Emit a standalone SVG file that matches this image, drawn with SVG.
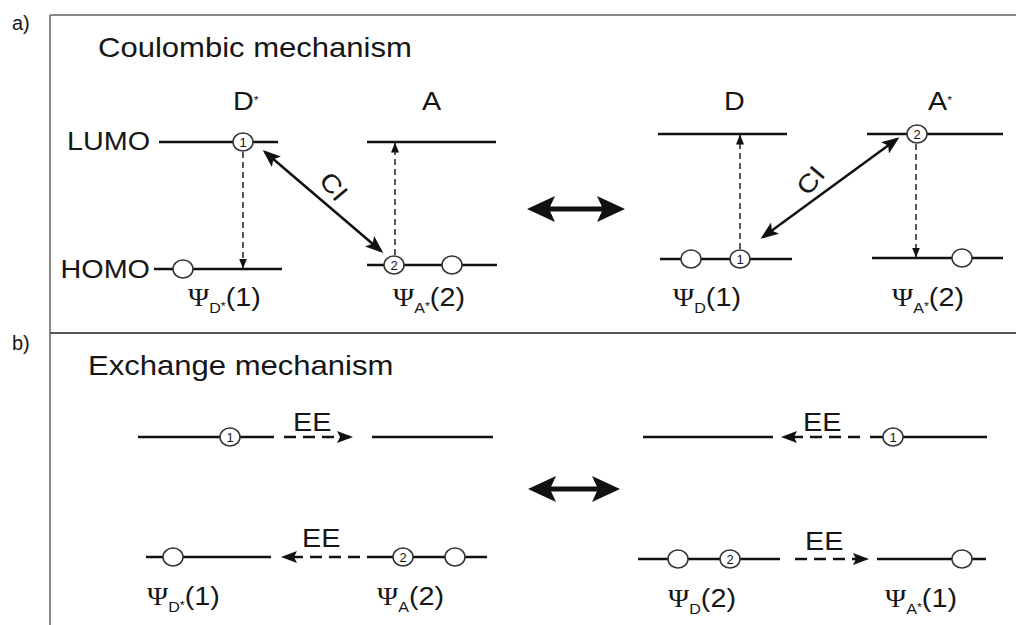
<svg xmlns="http://www.w3.org/2000/svg" width="1016" height="625" viewBox="0 0 1016 625">
<style>
text{font-family:"Liberation Sans",Arial,sans-serif;fill:#161616}
.ttl{font-size:27px}
.lbl{font-size:25px}
.psi{font-family:"Liberation Serif","Times New Roman",serif}
.sub{font-size:14px}
.star{font-size:11px}
.num{font-size:13px;text-anchor:middle}
.lvl{stroke:#111;stroke-width:2.5;fill:none}
.frame{stroke:#888;stroke-width:2;fill:none}
.dv{stroke:#222;stroke-width:1.5;stroke-dasharray:6 4;fill:none}
.ci{stroke:#111;stroke-width:2.5;fill:none}
.ee{stroke:#111;stroke-width:2.5;stroke-dasharray:12 7;fill:none}
.big{stroke:#111;stroke-width:5;fill:none}
.orb{fill:#fff;stroke:#333;stroke-width:1.5}
</style>
<defs>
<marker id="msm" markerUnits="userSpaceOnUse" viewBox="0 0 10 8" markerWidth="10" markerHeight="8" refX="9.5" refY="4" orient="auto-start-reverse"><path d="M0,0 L10,4 L0,8 z" fill="#111"/></marker>
<marker id="mci" markerUnits="userSpaceOnUse" viewBox="0 0 18 14" markerWidth="18" markerHeight="14" refX="15" refY="7" orient="auto-start-reverse"><path d="M0,0 L18,7 L0,14 L4,7 z" fill="#111"/></marker>
<marker id="mee" markerUnits="userSpaceOnUse" viewBox="0 0 16 12" markerWidth="16" markerHeight="12" refX="13" refY="6" orient="auto-start-reverse"><path d="M0,0 L16,6 L0,12 L3,6 z" fill="#111"/></marker>
<marker id="mbig" markerUnits="userSpaceOnUse" viewBox="0 0 28 26" markerWidth="28" markerHeight="26" refX="20" refY="13" orient="auto-start-reverse"><path d="M0,0 L28,13 L0,26 L6,13 z" fill="#111"/></marker>
</defs>

<g id="frame">
<path class="frame" d="M50,15 H1016 M50,15 V625"/>
<path d="M50,333 H1016" stroke="#555" stroke-width="2"/>
<text x="12" y="30" font-size="20">a)</text>
<text x="12" y="350" font-size="20">b)</text>
<text class="ttl" transform="translate(98,57) scale(1.15,1)">Coulombic mechanism</text>
<text class="ttl" transform="translate(88,375) scale(1.15,1)">Exchange mechanism</text>
</g>

<g id="connectors">
<line class="dv" x1="243" y1="152" x2="243" y2="268" marker-end="url(#msm)"/>
<line class="dv" x1="395" y1="255" x2="395" y2="143" marker-end="url(#msm)"/>
<line class="ci" x1="265" y1="152" x2="381" y2="251" marker-start="url(#mci)" marker-end="url(#mci)"/>
<line class="big" x1="535" y1="209" x2="617" y2="209" marker-start="url(#mbig)" marker-end="url(#mbig)"/>
<line class="dv" x1="740" y1="249" x2="740" y2="135" marker-end="url(#msm)"/>
<line class="dv" x1="916" y1="144" x2="916" y2="257" marker-end="url(#msm)"/>
<line class="ci" x1="763" y1="237" x2="897" y2="139" marker-start="url(#mci)" marker-end="url(#mci)"/>
<line class="ee" x1="284" y1="437" x2="350" y2="437" marker-end="url(#mee)"/>
<line class="ee" x1="360" y1="557" x2="284" y2="557" marker-end="url(#mee)"/>
<line class="big" x1="536" y1="489" x2="612" y2="489" marker-start="url(#mbig)" marker-end="url(#mbig)"/>
<line class="ee" x1="860" y1="437" x2="784" y2="437" marker-end="url(#mee)"/>
<line class="ee" x1="795" y1="559" x2="866" y2="559" marker-end="url(#mee)"/>
</g>

<g id="connector-labels">
<text class="lbl" transform="translate(318,181) rotate(50) scale(1.15,1)">CI</text>
<text class="lbl" transform="translate(808,197) rotate(-50) scale(1.15,1)">CI</text>
<text class="lbl" transform="translate(293,431) scale(1.15,1)">EE</text>
<text class="lbl" transform="translate(302,547) scale(1.15,1)">EE</text>
<text class="lbl" transform="translate(803,431) scale(1.15,1)">EE</text>
<text class="lbl" transform="translate(805,550) scale(1.15,1)">EE</text>
</g>

<g id="node-dstar">
<text class="lbl" transform="translate(233,110) scale(1.15,1)">D<tspan class="star" dy="-6">*</tspan></text>
<text class="lbl" text-anchor="end" transform="translate(150,150) scale(1.15,1)">LUMO</text>
<text class="lbl" text-anchor="end" transform="translate(150,278) scale(1.15,1)">HOMO</text>
<line class="lvl" x1="159" y1="142" x2="278" y2="142"/>
<line class="lvl" x1="154" y1="269" x2="282" y2="269"/>
<ellipse class="orb" cx="243" cy="142" rx="10" ry="9"/><text class="num" x="243" y="147">1</text>
<ellipse class="orb" cx="183" cy="269" rx="10" ry="9"/>
<text class="lbl" transform="translate(188,306) scale(1.15,1)"><tspan class="psi">Ψ</tspan><tspan class="sub" dy="7">D</tspan><tspan class="star" dy="-3">*</tspan><tspan dy="-4">(1)</tspan></text>
</g>

<g id="node-a">
<text class="lbl" transform="translate(422,110) scale(1.15,1)">A</text>
<line class="lvl" x1="367" y1="142" x2="496" y2="142"/>
<line class="lvl" x1="367" y1="265" x2="497" y2="265"/>
<ellipse class="orb" cx="394" cy="265" rx="10" ry="9"/><text class="num" x="394" y="270">2</text>
<ellipse class="orb" cx="452" cy="265" rx="10" ry="9"/>
<text class="lbl" transform="translate(393,306) scale(1.15,1)"><tspan class="psi">Ψ</tspan><tspan class="sub" dy="7">A</tspan><tspan class="star" dy="-3">*</tspan><tspan dy="-4">(2)</tspan></text>
</g>

<g id="node-d">
<text class="lbl" transform="translate(724,110) scale(1.15,1)">D</text>
<line class="lvl" x1="658" y1="134" x2="787" y2="134"/>
<line class="lvl" x1="660" y1="259" x2="792" y2="259"/>
<ellipse class="orb" cx="691" cy="259" rx="10" ry="9"/>
<ellipse class="orb" cx="740" cy="259" rx="10" ry="9"/><text class="num" x="740" y="264">1</text>
<text class="lbl" transform="translate(673,306) scale(1.15,1)"><tspan class="psi">Ψ</tspan><tspan class="sub" dy="7">D</tspan><tspan dy="-7">(1)</tspan></text>
</g>

<g id="node-astar">
<text class="lbl" transform="translate(928,110) scale(1.15,1)">A<tspan class="star" dy="-6">*</tspan></text>
<line class="lvl" x1="867" y1="134" x2="1003" y2="134"/>
<line class="lvl" x1="872" y1="258" x2="1003" y2="258"/>
<ellipse class="orb" cx="917" cy="134" rx="10" ry="9"/><text class="num" x="917" y="139">2</text>
<ellipse class="orb" cx="962" cy="258" rx="10" ry="9"/>
<text class="lbl" transform="translate(892,306) scale(1.15,1)"><tspan class="psi">Ψ</tspan><tspan class="sub" dy="7">A</tspan><tspan class="star" dy="-3">*</tspan><tspan dy="-4">(2)</tspan></text>
</g>

<g id="node-ex-dstar">
<line class="lvl" x1="138" y1="437" x2="274" y2="437"/>
<line class="lvl" x1="146" y1="557" x2="271" y2="557"/>
<ellipse class="orb" cx="230" cy="437" rx="10" ry="9"/><text class="num" x="230" y="442">1</text>
<ellipse class="orb" cx="173" cy="557" rx="10" ry="9"/>
<text class="lbl" transform="translate(147,605) scale(1.15,1)"><tspan class="psi">Ψ</tspan><tspan class="sub" dy="7">D</tspan><tspan class="star" dy="-3">*</tspan><tspan dy="-4">(1)</tspan></text>
</g>

<g id="node-ex-a">
<line class="lvl" x1="372" y1="437" x2="493" y2="437"/>
<line class="lvl" x1="367" y1="557" x2="487" y2="557"/>
<ellipse class="orb" cx="403" cy="557" rx="10" ry="9"/><text class="num" x="403" y="562">2</text>
<ellipse class="orb" cx="455" cy="557" rx="10" ry="9"/>
<text class="lbl" transform="translate(377,605) scale(1.15,1)"><tspan class="psi">Ψ</tspan><tspan class="sub" dy="7">A</tspan><tspan dy="-7">(2)</tspan></text>
</g>

<g id="node-ex-d">
<line class="lvl" x1="643" y1="437" x2="773" y2="437"/>
<line class="lvl" x1="638" y1="559" x2="780" y2="559"/>
<ellipse class="orb" cx="678" cy="559" rx="10" ry="9"/>
<ellipse class="orb" cx="730" cy="559" rx="10" ry="9"/><text class="num" x="730" y="564">2</text>
<text class="lbl" transform="translate(668,607) scale(1.15,1)"><tspan class="psi">Ψ</tspan><tspan class="sub" dy="7">D</tspan><tspan dy="-7">(2)</tspan></text>
</g>

<g id="node-ex-astar">
<line class="lvl" x1="870" y1="437" x2="987" y2="437"/>
<line class="lvl" x1="877" y1="559" x2="986" y2="559"/>
<ellipse class="orb" cx="893" cy="437" rx="10" ry="9"/><text class="num" x="893" y="442">1</text>
<ellipse class="orb" cx="962" cy="559" rx="10" ry="9"/>
<text class="lbl" transform="translate(885,607) scale(1.15,1)"><tspan class="psi">Ψ</tspan><tspan class="sub" dy="7">A</tspan><tspan class="star" dy="-3">*</tspan><tspan dy="-4">(1)</tspan></text>
</g>
</svg>
